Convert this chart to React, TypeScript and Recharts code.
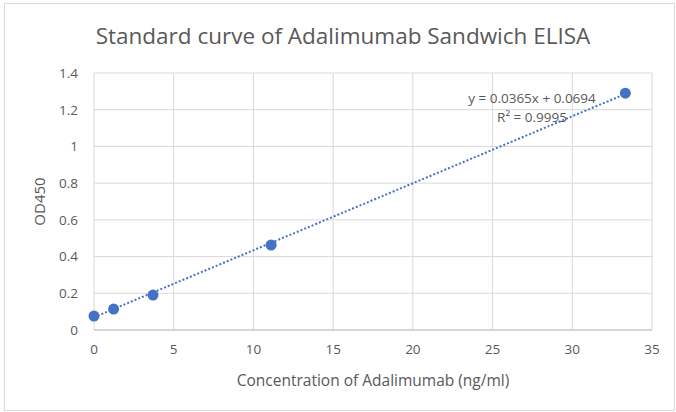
import React from 'react';
import {
  ScatterChart,
  Scatter,
  XAxis,
  YAxis,
  CartesianGrid,
  Label,
} from 'recharts';

// ─── Data ─────────────────────────────────────────────────────────────────────

const CONCENTRATIONS = [0, 1.23, 3.7, 11.11, 33.33];
const OD450 = [0.076, 0.114, 0.19, 0.463, 1.29];

// trendline endpoints, y = 0.0365x + 0.0694
const TREND_X = [0, 33.33];
const TREND_Y = [0.0694, 1.2859];

const X_TICKS = [0, 5, 10, 15, 20, 25, 30, 35];
const Y_TICKS = [0, 0.2, 0.4, 0.6, 0.8, 1, 1.2, 1.4];

const TITLE = 'Standard curve of Adalimumab Sandwich ELISA';
const EQUATION = 'y = 0.0365x + 0.0694';
const R_SQUARED = 'R² = 0.9995';

const points = CONCENTRATIONS.map((x, i) => ({ x, y: OD450[i] }));
const trend = TREND_X.map((x, i) => ({ x, y: TREND_Y[i] }));

// ─── Styles ───────────────────────────────────────────────────────────────────

const FONT = '"Open Sans", "Noto Sans", sans-serif';
const TEXT = '#595959';
const BLUE = '#4472c4';
const GRID = '#d9d9d9';

function Dot(props: { cx?: number; cy?: number }) {
  return <circle cx={props.cx} cy={props.cy} r={5.5} fill={BLUE} />;
}

export default function App() {
  return (
    <div
      style={{
        position: 'absolute',
        left: 0,
        top: 0,
        width: 676,
        height: 412,
        background: '#fff',
        fontFamily: FONT,
      }}
    >
      <div
        style={{
          position: 'absolute',
          left: 4,
          top: 3,
          width: 669,
          height: 406,
          border: `1px solid ${GRID}`,
        }}
      />
      <div
        style={{
          position: 'absolute',
          left: 0,
          top: 20,
          width: 686,
          textAlign: 'center',
          fontSize: 22.5,
          color: TEXT,
        }}
      >
        {TITLE}
      </div>
      <ScatterChart
        width={676}
        height={412}
        margin={{ top: 73, right: 24, bottom: 52, left: 40 }}
        style={{ position: 'absolute', left: 0, top: 0 }}
      >
        <CartesianGrid stroke={GRID} />
        <XAxis
          type="number"
          dataKey="x"
          domain={[0, 35]}
          ticks={X_TICKS}
          tick={{ fontSize: 13.5, fill: TEXT, fontFamily: FONT }}
          tickLine={false}
          axisLine={{ stroke: '#bfbfbf' }}
          tickMargin={8}
          height={30}
        >
          <Label
            value="Concentration of Adalimumab (ng/ml)"
            position="insideBottom"
            offset={-26}
            style={{ fontSize: 15.5, fill: TEXT, fontFamily: FONT }}
          />
        </XAxis>
        <YAxis
          type="number"
          dataKey="y"
          domain={[0, 1.4]}
          ticks={Y_TICKS}
          tick={{ fontSize: 13.5, fill: TEXT, fontFamily: FONT }}
          tickLine={false}
          axisLine={false}
          tickMargin={10}
          width={54}
        >
          <Label
            value="OD450"
            angle={-90}
            position="insideLeft"
            offset={0}
            style={{ fontSize: 15, fill: TEXT, fontFamily: FONT, textAnchor: 'middle' }}
          />
        </YAxis>
        <Scatter
          data={trend}
          line={{ stroke: BLUE, strokeWidth: 2, strokeDasharray: '2 2' }}
          shape={() => null}
          isAnimationActive={false}
        />
        <Scatter data={points} fill={BLUE} isAnimationActive={false} shape={<Dot />} />
      </ScatterChart>
      <div
        style={{
          position: 'absolute',
          left: 438,
          top: 89,
          width: 188,
          textAlign: 'center',
          fontSize: 13.5,
          lineHeight: '19px',
          color: TEXT,
        }}
      >
        <div>{EQUATION}</div>
        <div>{R_SQUARED}</div>
      </div>
    </div>
  );
}
